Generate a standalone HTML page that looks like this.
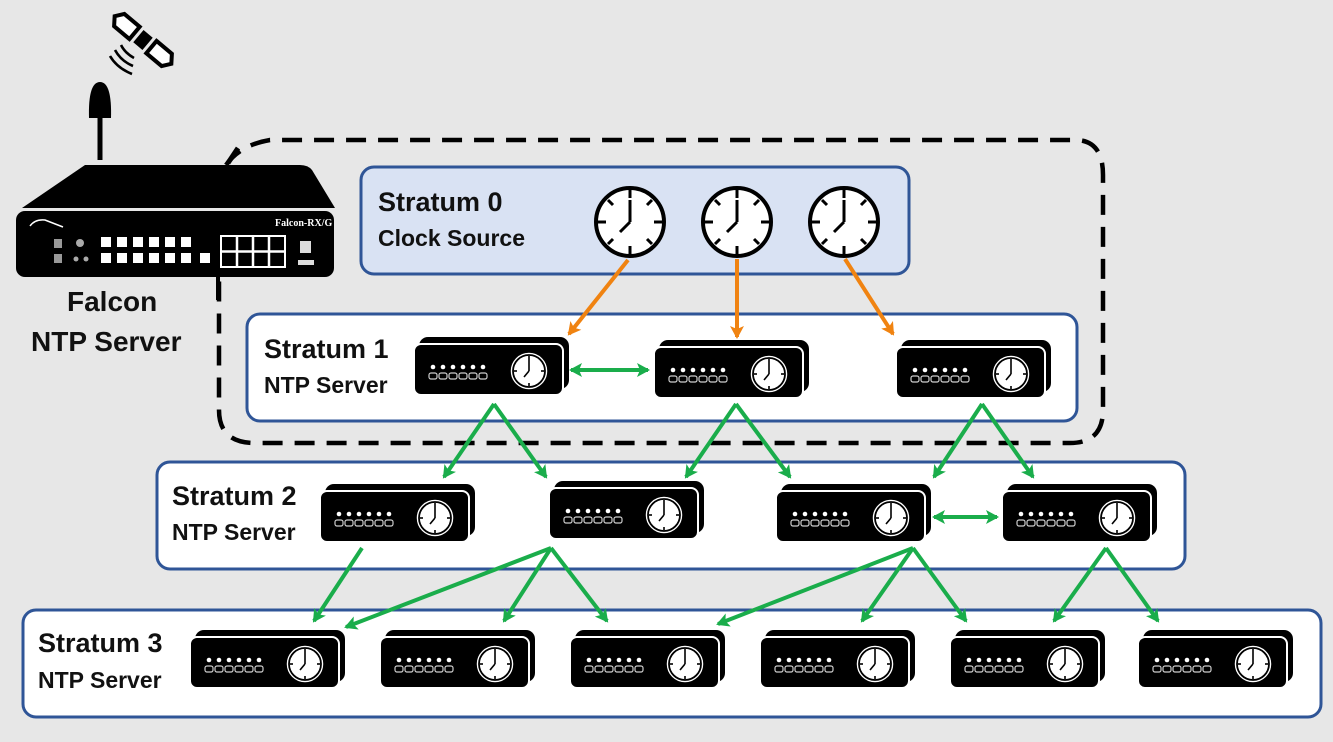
<!DOCTYPE html>
<html><head><meta charset="utf-8"><style>
html,body{margin:0;padding:0;background:#e7e7e7;}
svg{display:block;}
text{font-family:"Liberation Sans",sans-serif;font-weight:bold;fill:#111;}
</style></head><body>
<svg width="1333" height="742" viewBox="0 0 1333 742" xmlns="http://www.w3.org/2000/svg">
<defs>
<symbol id="clk" viewBox="-40 -40 80 80" overflow="visible">
<circle r="34" fill="#fff" stroke="#000" stroke-width="4"/>
<g stroke="#000" stroke-width="3">
<line x1="0" y1="-32" x2="0" y2="-24"/><line x1="0" y1="32" x2="0" y2="24"/>
<line x1="-32" y1="0" x2="-24" y2="0"/><line x1="32" y1="0" x2="24" y2="0"/>
<line x1="-22" y1="-22" x2="-17" y2="-17"/><line x1="22" y1="-22" x2="17" y2="-17"/>
<line x1="-22" y1="22" x2="-17" y2="17"/><line x1="22" y1="22" x2="17" y2="17"/>
<line x1="0" y1="0" x2="0" y2="-22"/><line x1="0" y1="0" x2="-10" y2="10"/>
</g>
</symbol>
<g id="srv">
<rect x="5" y="0" width="150" height="52" rx="9" fill="#000"/>
<rect x="0" y="7" width="149" height="51" rx="7" fill="#000" stroke="#fff" stroke-width="2"/>
<g fill="#fff"><circle cx="19" cy="30" r="2.3"/><circle cx="29" cy="30" r="2.3"/><circle cx="39" cy="30" r="2.3"/><circle cx="49" cy="30" r="2.3"/><circle cx="59" cy="30" r="2.3"/><circle cx="69" cy="30" r="2.3"/></g>
<g fill="none" stroke="#ccc" stroke-width="1.2"><rect x="15" y="36" width="8" height="6" rx="2"/><rect x="25" y="36" width="8" height="6" rx="2"/><rect x="35" y="36" width="8" height="6" rx="2"/><rect x="45" y="36" width="8" height="6" rx="2"/><rect x="55" y="36" width="8" height="6" rx="2"/><rect x="65" y="36" width="8" height="6" rx="2"/></g>
<circle cx="115" cy="34" r="19" fill="#fff" stroke="#000" stroke-width="1.5"/>
<circle cx="115" cy="34" r="16" fill="none" stroke="#000" stroke-width="1.8"/>
<g stroke="#000" stroke-width="1.6"><line x1="115" y1="19" x2="115" y2="22"/><line x1="115" y1="49" x2="115" y2="46"/><line x1="100" y1="34" x2="103" y2="34"/><line x1="130" y1="34" x2="127" y2="34"/><line x1="115" y1="34" x2="115" y2="22"/><line x1="115" y1="34" x2="110" y2="40"/></g>
</g>
<marker id="ag" markerWidth="14" markerHeight="14" refX="11" refY="7" orient="auto-start-reverse" markerUnits="userSpaceOnUse" viewBox="0 0 14 14"><path d="M0,0 L13,7 L0,14 L3,7 z" fill="#1aad4b"/></marker>
<marker id="ao2" markerWidth="14" markerHeight="14" refX="11" refY="7" orient="auto" markerUnits="userSpaceOnUse" viewBox="0 0 14 14"><path d="M0,0 L13,7 L0,14 L3,7 z" fill="#f08311"/></marker>
</defs>

<path d="M226,165 Q240,145 270,140 L1075,140 Q1103,140 1103,175 L1103,410 Q1103,443 1070,443 L255,443 Q219,443 219,410 L219,280" fill="none" stroke="#000" stroke-width="4.5" stroke-dasharray="20,12"/>

<rect x="361" y="167" width="548" height="107" rx="13" fill="#d9e2f3" stroke="#2f5597" stroke-width="3"/>
<rect x="247" y="314" width="830" height="107" rx="13" fill="#fff" stroke="#2f5597" stroke-width="3"/>
<rect x="157" y="462" width="1028" height="107" rx="13" fill="#fff" stroke="#2f5597" stroke-width="3"/>
<rect x="23" y="610" width="1298" height="107" rx="13" fill="#fff" stroke="#2f5597" stroke-width="3"/>

<!-- Falcon device -->
<path d="M100,160 L100,115" stroke="#000" stroke-width="5"/>
<path d="M89,118 Q88,82 100,82 Q112,82 111,118 Z" fill="#000"/>
<path d="M228,163 L238,148" stroke="#000" stroke-width="5"/>
<path d="M218,262 L218,300" stroke="#000" stroke-width="4"/>
<path d="M22,208 L85,165 L300,165 Q308,165 312,170 L335,208 Z" fill="#000"/>
<rect x="16" y="211" width="318" height="66" rx="9" fill="#000"/>
<g fill="#fff">
<rect x="101" y="237" width="10" height="10"/><rect x="117" y="237" width="10" height="10"/><rect x="133" y="237" width="10" height="10"/><rect x="149" y="237" width="10" height="10"/><rect x="165" y="237" width="10" height="10"/><rect x="181" y="237" width="10" height="10"/>
<rect x="101" y="253" width="10" height="10"/><rect x="117" y="253" width="10" height="10"/><rect x="133" y="253" width="10" height="10"/><rect x="149" y="253" width="10" height="10"/><rect x="165" y="253" width="10" height="10"/><rect x="181" y="253" width="10" height="10"/><rect x="200" y="253" width="10" height="10"/>
<rect x="300" y="241" width="11" height="12" fill="#ddd"/><rect x="298" y="260" width="16" height="5" fill="#ddd"/>
</g>
<rect x="54" y="239" width="8" height="9" fill="#999"/><rect x="54" y="254" width="8" height="9" fill="#999"/>
<circle cx="80" cy="243" r="4" fill="#aaa"/><circle cx="76" cy="259" r="2.5" fill="#aaa"/><circle cx="86" cy="259" r="2.5" fill="#aaa"/>
<rect x="221" y="236" width="64" height="31" fill="none" stroke="#fff" stroke-width="2"/>
<path d="M237,236 V267 M253,236 V267 M269,236 V267 M221,251.5 H285" stroke="#fff" stroke-width="2.5"/>
<path d="M30,226 Q35,219 45,220 L63,227" fill="none" stroke="#fff" stroke-width="1.5"/>
<text x="275" y="226" style="font-family:'Liberation Serif',serif;font-size:10px;fill:#fff">Falcon-RX/G</text>
<!-- satellite -->
<g transform="translate(143,40) rotate(40)">
<rect x="-6" y="-8" width="12" height="16" fill="#000"/>
<path d="M-11,-8 L-31,-8 L-37,0 L-31,8 L-11,8 Z" fill="#fff" stroke="#000" stroke-width="4"/>
<path d="M11,-8 L31,-8 L37,0 L31,8 L11,8 Z" fill="#fff" stroke="#000" stroke-width="4"/>
</g>
<path d="M110,56 Q117,68 132,74 M115,50 Q121,61 133,66 M121,45 Q125,53 134,58" fill="none" stroke="#000" stroke-width="2.6"/>

<!-- texts -->
<text x="378" y="211" font-size="27">Stratum 0</text>
<text x="378" y="246" font-size="23">Clock Source</text>
<text x="264" y="358" font-size="27">Stratum 1</text>
<text x="264" y="393" font-size="23">NTP Server</text>
<text x="172" y="505" font-size="27">Stratum 2</text>
<text x="172" y="540" font-size="23">NTP Server</text>
<text x="38" y="652" font-size="27">Stratum 3</text>
<text x="38" y="688" font-size="23">NTP Server</text>
<text x="67" y="311" font-size="28">Falcon</text>
<text x="31" y="351" font-size="28">NTP Server</text>

<use href="#clk" x="590" y="182" width="80" height="80"/>
<use href="#clk" x="697" y="182" width="80" height="80"/>
<use href="#clk" x="804" y="182" width="80" height="80"/>

<use href="#srv" transform="translate(414,337)"/>
<use href="#srv" transform="translate(654,340)"/>
<use href="#srv" transform="translate(896,340)"/>
<use href="#srv" transform="translate(320,484)"/>
<use href="#srv" transform="translate(549,481)"/>
<use href="#srv" transform="translate(776,484)"/>
<use href="#srv" transform="translate(1002,484)"/>
<use href="#srv" transform="translate(190,630)"/>
<use href="#srv" transform="translate(380,630)"/>
<use href="#srv" transform="translate(570,630)"/>
<use href="#srv" transform="translate(760,630)"/>
<use href="#srv" transform="translate(950,630)"/>
<use href="#srv" transform="translate(1138,630)"/>

<g stroke="#f08311" stroke-width="4" fill="none">
<line x1="628" y1="260" x2="569" y2="334" marker-end="url(#ao2)"/>
<line x1="737" y1="259" x2="737" y2="337" marker-end="url(#ao2)"/>
<line x1="845" y1="259" x2="893" y2="334" marker-end="url(#ao2)"/>
</g>

<g stroke="#1aad4b" stroke-width="4" fill="none">
<line x1="571" y1="370" x2="648" y2="370" marker-start="url(#ag)" marker-end="url(#ag)"/>
<line x1="934" y1="517" x2="997" y2="517" marker-start="url(#ag)" marker-end="url(#ag)"/>
<line x1="494" y1="404" x2="444" y2="477" marker-end="url(#ag)"/>
<line x1="494" y1="404" x2="546" y2="477" marker-end="url(#ag)"/>
<line x1="736" y1="404" x2="686" y2="477" marker-end="url(#ag)"/>
<line x1="736" y1="404" x2="790" y2="477" marker-end="url(#ag)"/>
<line x1="982" y1="404" x2="934" y2="477" marker-end="url(#ag)"/>
<line x1="982" y1="404" x2="1033" y2="477" marker-end="url(#ag)"/>
<line x1="362" y1="548" x2="314" y2="621" marker-end="url(#ag)"/>
<line x1="551" y1="548" x2="346" y2="627" marker-end="url(#ag)"/>
<line x1="551" y1="548" x2="504" y2="621" marker-end="url(#ag)"/>
<line x1="551" y1="548" x2="607" y2="621" marker-end="url(#ag)"/>
<line x1="913" y1="548" x2="718" y2="624" marker-end="url(#ag)"/>
<line x1="913" y1="548" x2="862" y2="621" marker-end="url(#ag)"/>
<line x1="913" y1="548" x2="966" y2="621" marker-end="url(#ag)"/>
<line x1="1106" y1="548" x2="1054" y2="621" marker-end="url(#ag)"/>
<line x1="1106" y1="548" x2="1158" y2="621" marker-end="url(#ag)"/>
</g>
</svg>
</body></html>
